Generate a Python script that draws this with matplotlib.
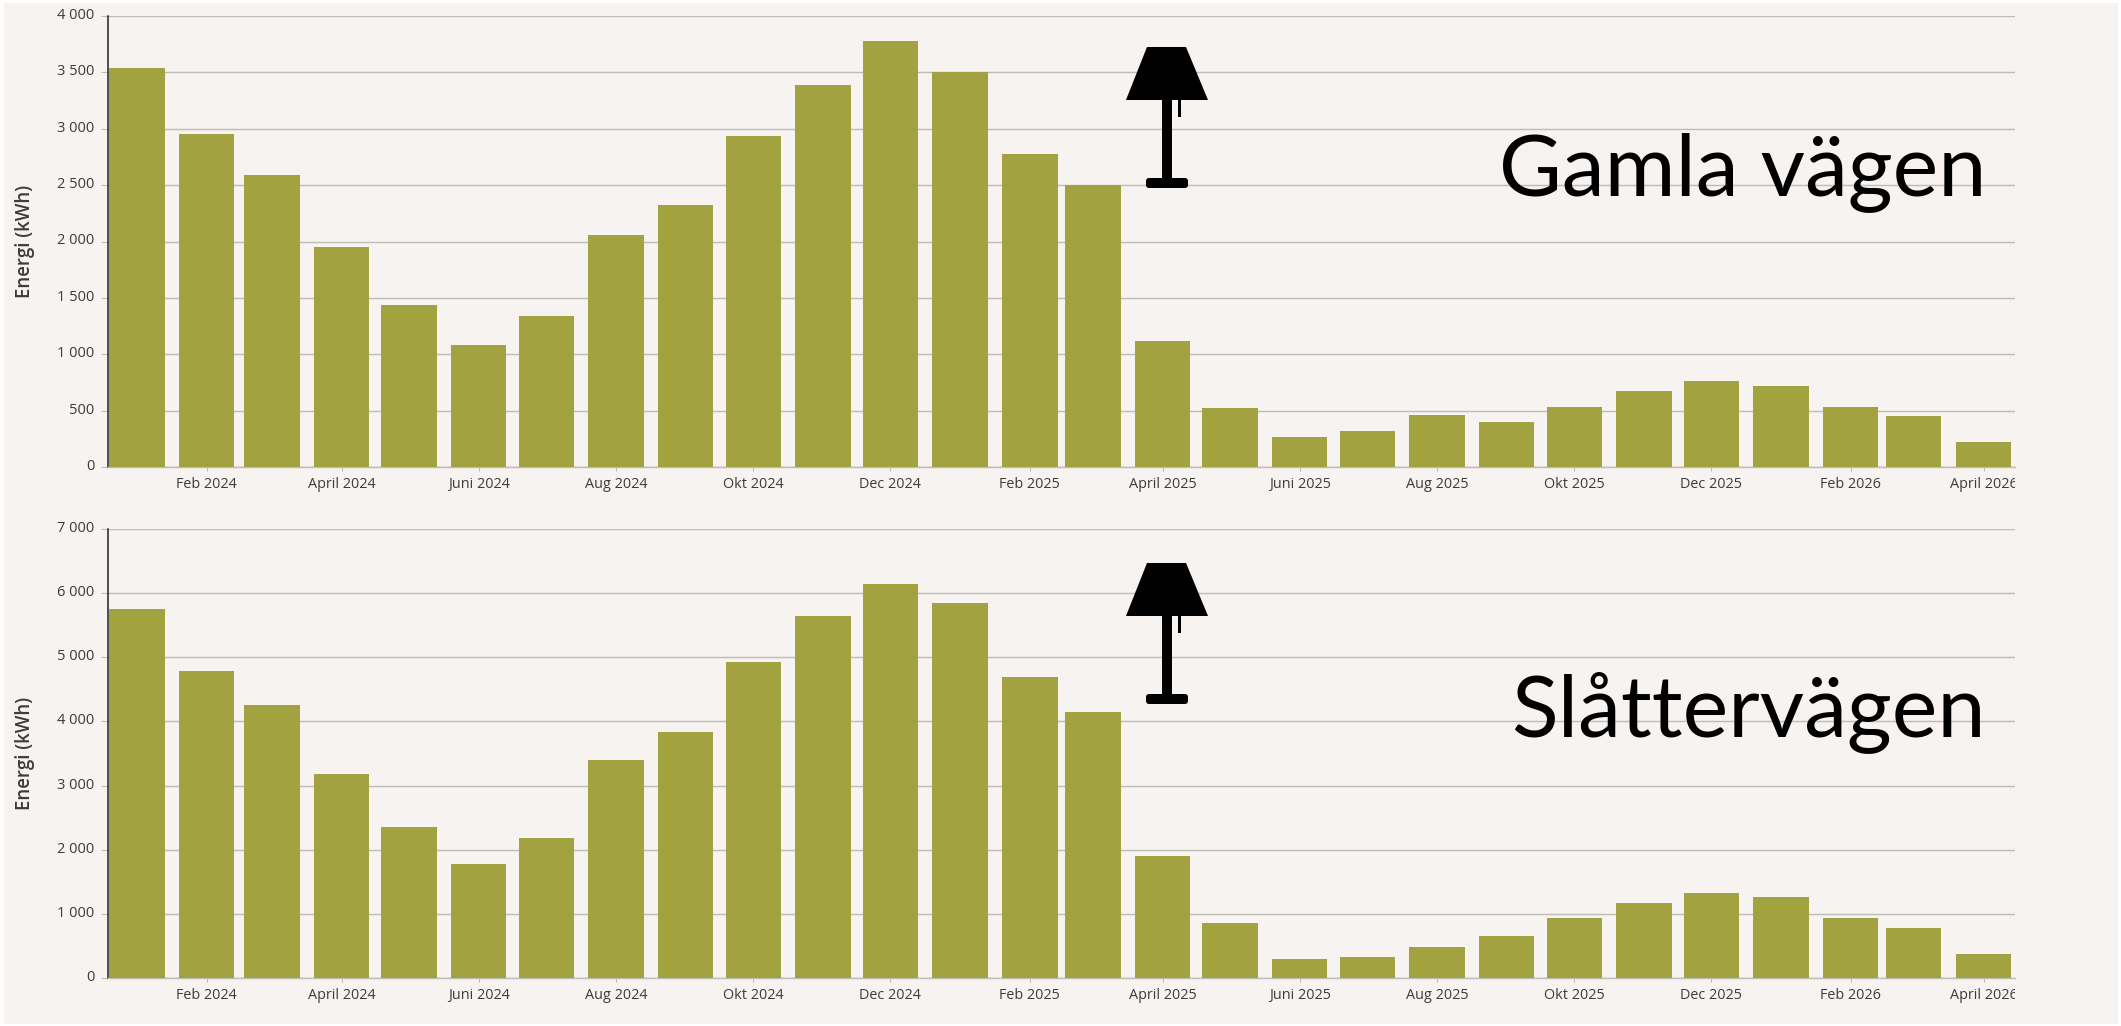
import datetime as dt
import matplotlib
matplotlib.use("Agg")
import matplotlib.pyplot as plt
import matplotlib.dates as mdates
from matplotlib.patches import Polygon, Rectangle, FancyBboxPatch
from matplotlib.ticker import FuncFormatter
from matplotlib.transforms import Affine2D, Bbox, ScaledTranslation

W, H = 2121, 1026

months = [dt.date(2024 + (i // 12), i % 12 + 1, 1) for i in range(28)]
gamla = [3540, 2950, 2590, 1950, 1440, 1080, 1340, 2060, 2320, 2940, 3390, 3780, 3500, 2780,
         2500, 1120, 520, 270, 320, 460, 400, 530, 670, 760, 720, 530, 450, 220]
slatter = [5760, 4780, 4260, 3180, 2360, 1770, 2180, 3400, 3840, 4920, 5640, 6140, 5840, 4700,
           4140, 1900, 860, 300, 320, 480, 660, 940, 1170, 1330, 1260, 940, 780, 380]
names = ["Gamla vägen", "Slåtterv\u00e4gen"]
mon_names = {1: "Jan", 2: "Feb", 3: "Mars", 4: "April", 5: "Maj", 6: "Juni", 7: "Juli",
             8: "Aug", 9: "Sep", 10: "Okt", 11: "Nov", 12: "Dec"}

BG = "#f6f3f0"
BAR = "#a3a241"
GRID = "#bfbdb8"
TXT = "#3c3c3c"
FONT = "Open Sans"

fig = plt.figure(figsize=(W / 100, H / 100), dpi=100, facecolor="white")
px = Affine2D().scale(1, -1).translate(0, H)  # pixel coordinates, origin top-left
fig.add_artist(Rectangle((4, 3), 2114, 1021, transform=px, fc=BG, ec="none", zorder=-10))


def axes_at(left, top, right, bottom):
    return fig.add_axes([left / W, 1 - bottom / H, (right - left) / W, (bottom - top) / H])


def panel(box, values, ymax, ystep, name, name_y, lamp_dy):
    ax = axes_at(*box)
    ax.set_facecolor("none")
    ax.bar(months, values, width=24.6, color=BAR, zorder=3)
    ax.set_xlim(mdates.date2num(dt.date(2024, 1, 1)) - 13.1, mdates.date2num(dt.date(2026, 4, 1)) + 14)
    ax.set_ylim(0, ymax)
    ax.set_yticks(range(0, ymax + 1, ystep))
    ax.yaxis.set_major_formatter(FuncFormatter(lambda v, _: f"{int(v):,}".replace(",", " ")))
    ax.xaxis.set_major_locator(mdates.MonthLocator(bymonth=[2, 4, 6, 8, 10, 12]))
    ax.xaxis.set_major_formatter(FuncFormatter(
        lambda v, _: f"{mon_names[mdates.num2date(v).month]} {mdates.num2date(v).year}"))
    ax.grid(axis="y", color=GRID, lw=1.05, zorder=1)
    ax.set_axisbelow(True)
    for s in ("top", "right"):
        ax.spines[s].set_visible(False)
    ax.spines["left"].set_color("#222222")
    ax.spines["left"].set_linewidth(1.1)
    ax.spines["bottom"].set_color(GRID)
    ax.spines["bottom"].set_linewidth(1.05)
    ax.tick_params(axis="y", length=5.4, width=0.8, color=GRID, labelcolor=TXT, labelsize=10.5, pad=4)
    ax.tick_params(axis="x", length=3, width=0.8, color=GRID, labelcolor=TXT, labelsize=10.4, pad=4.5)
    clip = Bbox([[0, 0], [box[2], H]])
    up = ScaledTranslation(0, 2.5 / 100, fig.dpi_scale_trans)
    for lab in ax.get_xticklabels() + ax.get_yticklabels():
        lab.set_fontfamily(FONT)
    for lab in ax.get_yticklabels():
        lab.set_transform(lab.get_transform() + up)
    for lab in ax.get_xticklabels():
        lab.set_clip_box(clip)
        lab.set_clip_on(True)
    ax.set_ylabel("Energi (kWh)", fontfamily=FONT, fontsize=13.4, fontweight="semibold", color=TXT)
    ax.yaxis.set_label_coords(35 / W, 1 - (box[1] + box[3]) / 2 / H, transform=fig.transFigure)
    fig.text(1986 / W, 1 - name_y / H, name, ha="right", va="baseline", fontfamily="Lato",
             fontsize=62, color="black")
    # lamp symbol
    d = lamp_dy
    for art in (
        Polygon([(1147, 47 + d), (1186, 47 + d), (1208, 100 + d), (1126, 100 + d)], transform=px, fc="k", ec="none"),
        Rectangle((1162, 100 + d), 10, 80, transform=px, fc="k", ec="none"),
        Rectangle((1178, 100 + d), 3, 17, transform=px, fc="k", ec="none"),
        FancyBboxPatch((1149, 181 + d), 36, 4, boxstyle="round,pad=3", transform=px, fc="k", ec="none"),
    ):
        fig.add_artist(art)
    return ax


panel((107.5, 16, 2015, 467), gamla, 4000, 500, names[0], 195, 0)
panel((107.5, 529, 2015, 978), slatter, 7000, 1000, names[1], 736, 516)

fig.savefig("out.png", dpi=100, facecolor="white")
